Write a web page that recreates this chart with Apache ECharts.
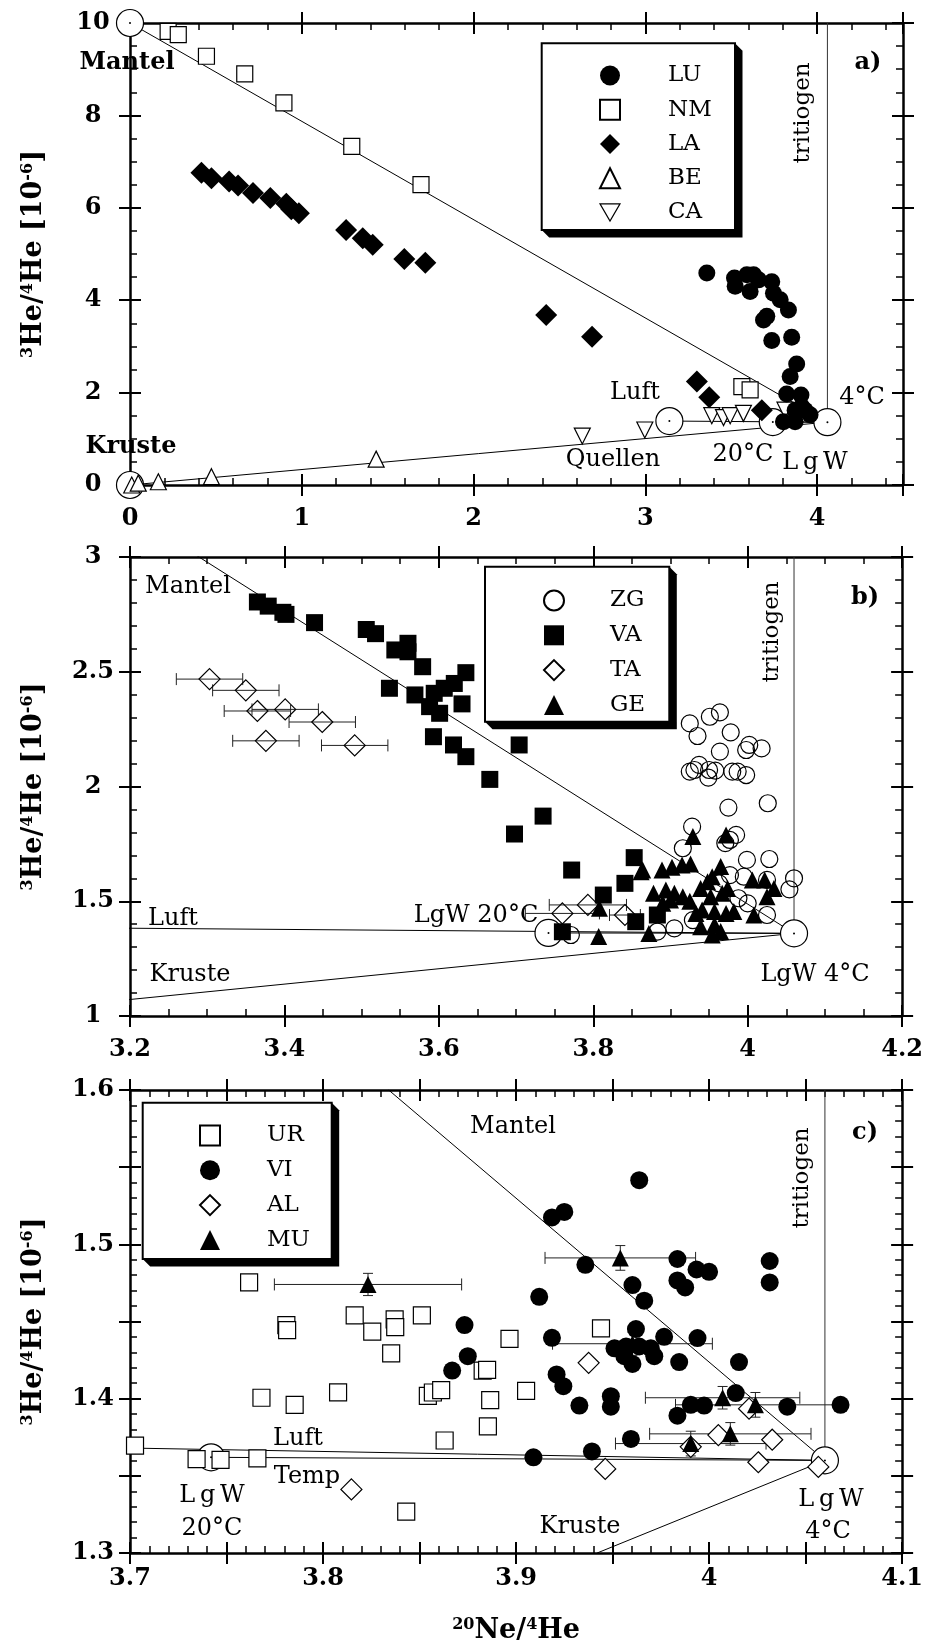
<!DOCTYPE html>
<html>
<head>
<meta charset="utf-8">
<script src="https://cdn.jsdelivr.net/npm/echarts@6/dist/echarts.min.js"></script>
<style>
  html, body { margin: 0; padding: 0; background: #fff; }
  #chart { width: 926px; height: 1648px; }
</style>
</head>
<body>
<div id="chart"></div>
<script>
// ==================== DATA ====================
// end members [Ne/He, 3He/4He]
const endMantel = [0, 10];
const endKruste = [0, 0];
const endLuft = [3.14, 1.384];
const endLgW20 = [3.742, 1.362];
const endLgW4 = [4.06, 1.36];
// where the panel c mixing lines hit the frame
const mantelEdgeC = [3.834, 1.6];
const krusteEdgeC = [3.942, 1.3];
const luftEdgeC = [3.7, 1.368];

// panel a
const LU = [[3.358,4.59],[3.519,4.48],[3.523,4.30],[3.591,4.55],[3.630,4.55],[3.659,4.44],[3.610,4.19],[3.736,4.40],[3.746,4.15],[3.785,4.01],[3.833,3.79],[3.707,3.65],[3.688,3.57],[3.736,3.13],[3.852,3.20],[3.881,2.62],[3.843,2.35],[3.823,1.97],[3.906,1.95],[3.930,1.62],[3.959,1.52],[3.872,1.62],[3.804,1.37],[3.872,1.37],[3.910,1.70]];
const NM = [[0.222,9.82],[0.281,9.75],[0.445,9.28],[0.668,8.90],[0.896,8.27],[1.291,7.33],[1.694,6.50],[3.562,2.13],[3.610,2.06]];
const LA = [[0.416,6.76],[0.474,6.64],[0.577,6.57],[0.629,6.48],[0.716,6.32],[0.817,6.21],[0.910,6.09],[0.939,5.97],[0.983,5.88],[1.258,5.52],[1.355,5.34],[1.413,5.20],[1.597,4.89],[1.719,4.81],[2.423,3.68],[2.690,3.21],[3.300,2.24],[3.372,1.90],[3.678,1.62]];
const BE = [[0.010,0.00],[0.048,0.04],[0.165,0.07],[0.474,0.18],[1.433,0.56]];
const CA = [[2.633,1.06],[2.997,1.19],[3.387,1.50],[3.455,1.46],[3.494,1.50],[3.571,1.55],[3.813,1.62]];

// panel b
const ZG = [[3.925,2.275],[3.935,2.220],[3.951,2.304],[3.964,2.323],[3.978,2.236],[3.964,2.152],[4.002,2.181],[3.998,2.159],[4.018,2.166],[3.925,2.065],[3.937,2.094],[3.931,2.072],[3.949,2.039],[3.950,2.072],[3.958,2.069],[3.980,2.065],[3.987,2.065],[3.998,2.050],[4.026,1.927],[3.975,1.908],[3.928,1.825],[3.916,1.731],[3.971,1.753],[3.985,1.789],[3.977,1.767],[3.999,1.680],[4.028,1.684],[3.977,1.614],[3.995,1.607],[4.025,1.593],[4.060,1.600],[4.054,1.552],[3.988,1.513],[4.000,1.491],[4.025,1.440],[3.905,1.382],[3.883,1.368],[3.929,1.418],[3.963,1.578],[3.771,1.353]];
const VA = [[3.365,2.804],[3.379,2.786],[3.398,2.759],[3.402,2.750],[3.439,2.714],[3.506,2.684],[3.518,2.666],[3.543,2.595],[3.560,2.624],[3.560,2.587],[3.579,2.522],[3.536,2.428],[3.569,2.399],[3.594,2.406],[3.588,2.348],[3.601,2.319],[3.607,2.428],[3.620,2.449],[3.635,2.496],[3.630,2.360],[3.593,2.217],[3.619,2.181],[3.635,2.130],[3.704,2.181],[3.666,2.031],[3.735,1.871],[3.698,1.793],[3.772,1.636],[3.853,1.690],[3.841,1.578],[3.813,1.527],[3.855,1.411],[3.760,1.367],[3.883,1.440]];
// [x, y, xerr]
const TA = [[3.303,2.468,0.043],[3.350,2.419,0.043],[3.365,2.329,0.043],[3.401,2.336,0.043],[3.449,2.281,0.043],[3.376,2.199,0.043],[3.491,2.179,0.043],[3.760,1.447,0.048],[3.793,1.484,0.050],[3.841,1.440,0.020]];
const GE = [[3.929,1.782],[3.972,1.789],[3.889,1.636],[3.902,1.648],[3.915,1.658],[3.926,1.662],[3.965,1.651],[3.864,1.636],[3.878,1.535],[3.894,1.549],[3.905,1.535],[3.916,1.520],[3.890,1.491],[3.939,1.556],[3.948,1.585],[3.954,1.607],[3.952,1.520],[3.967,1.535],[3.974,1.556],[3.941,1.462],[3.957,1.455],[3.972,1.447],[3.982,1.455],[3.933,1.447],[3.939,1.389],[3.957,1.397],[3.965,1.368],[3.954,1.353],[4.006,1.593],[4.022,1.593],[4.034,1.556],[4.025,1.520],[4.008,1.440],[3.872,1.360],[3.808,1.469],[3.807,1.346],[3.862,1.629],[3.900,1.505],[3.925,1.500]];

// panel c
const UR = [[3.7026,1.3696],[3.7345,1.3608],[3.7469,1.3603],[3.7660,1.3613],[3.7617,1.4754],[3.7810,1.4477],[3.7814,1.4444],[3.7681,1.4006],[3.7853,1.3960],[3.8164,1.4540],[3.8255,1.4434],[3.8371,1.4514],[3.8374,1.4464],[3.8353,1.4293],[3.8512,1.4540],[3.8078,1.4041],[3.8543,1.4018],[3.8569,1.4040],[3.8612,1.4055],[3.8630,1.3729],[3.8431,1.3268],[3.8966,1.4388],[3.9440,1.4455],[3.8827,1.4182],[3.8850,1.4187],[3.8866,1.3991],[3.9052,1.4050],[3.8854,1.3820]];
const VI = [[3.8733,1.4477],[3.8750,1.4275],[3.8669,1.4182],[3.9638,1.5416],[3.9186,1.5174],[3.9250,1.5210],[3.9359,1.4867],[3.9836,1.4905],[3.9935,1.4837],[4.0000,1.4822],[3.9836,1.4766],[3.9876,1.4721],[3.9603,1.4736],[3.9664,1.4635],[4.0314,1.4892],[4.0314,1.4753],[3.9120,1.4660],[3.9186,1.4394],[3.9621,1.4451],[3.9767,1.4401],[3.9940,1.4393],[3.9510,1.4326],[3.9570,1.4338],[3.9638,1.4338],[3.9698,1.4326],[3.9561,1.4275],[3.9603,1.4225],[3.9716,1.4275],[3.9845,1.4237],[3.9210,1.4157],[3.9245,1.4081],[3.9328,1.3955],[3.9491,1.4016],[3.9491,1.3948],[4.0155,1.4237],[4.0138,1.4036],[3.9905,1.3960],[3.9974,1.3955],[3.9836,1.3890],[4.0405,1.3948],[4.0681,1.3960],[3.9595,1.3739],[3.9393,1.3658],[3.9090,1.3620]];
const AL = [[3.8147,1.3412],[3.9376,1.4232],[3.9462,1.3545],[4.0207,1.3935],[4.0048,1.3764],[3.9905,1.3688],[4.0327,1.3734],[4.0255,1.3588],[4.0566,1.3558]];
// [x, y, xerr, yerr]
const MU = [[3.8233,1.4740,0.0485,0.0072],[3.9540,1.4912,0.039,0.008],[4.0070,1.4006,0.040,0.0073],[4.0240,1.3960,0.0414,0.008],[4.0110,1.3772,0.0418,0.0073],[3.9905,1.3709,0.039,0.008],[3.9603,1.4356,0.0414,0.0075]];

// ==================== CHART ====================
const FONT = '"DejaVu Serif", "Liberation Serif", serif';
const chart = echarts.init(document.getElementById('chart'));

const fmtInt = v => Math.abs(v - Math.round(v)) < 1e-6 ? String(Math.round(v)) : '';
const fmtDec = v => String(Math.round(v * 10) / 10);
const fmtTenth = v => Math.abs(v * 10 - Math.round(v * 10)) < 1e-6 ? String(Math.round(v * 10) / 10) : '';

const tickFont = { fontFamily: FONT, fontSize: 24, fontWeight: 'bold', color: '#000' };
const titleStyle = {
  fontFamily: FONT, fontSize: 27, fontWeight: 'bold', color: '#000',
  rich: { s: { fontFamily: FONT, fontSize: 16, fontWeight: 'bold', color: '#000', padding: [0, 0, 12, 0] } }
};

function axesPair(dim, g, min, max, major, minor, fmt, extra, labelMargin) {
  const pos = dim === 'x' ? ['bottom', 'top'] : ['left', 'right'];
  const base = { gridIndex: g, type: 'value', min, max, splitLine: { show: false } };
  const line = { show: true, onZero: false, lineStyle: { color: '#000', width: 2.5 } };
  const noLine = { show: false, onZero: false };
  const minorTick = { show: true, inside: true, length: 7, lineStyle: { color: '#000', width: 1.5 } };
  const majorTick = { show: true, inside: false, length: 22, lineStyle: { color: '#000', width: 2 } };
  const lab = dim === 'x'
    ? { show: true, margin: labelMargin || 33, formatter: fmt, ...tickFont }
    : { show: true, margin: 48, align: 'center', formatter: fmt, ...tickFont };
  return [
    Object.assign({ ...base, position: pos[0], interval: minor, axisLine: line, axisTick: minorTick, axisLabel: { show: false } }, extra || {}),
    { ...base, position: pos[0], offset: -11, interval: major, axisLine: noLine, axisTick: majorTick, axisLabel: lab },
    { ...base, position: pos[1], interval: minor, axisLine: line, axisTick: minorTick, axisLabel: { show: false } },
    { ...base, position: pos[1], offset: -11, interval: major, axisLine: noLine, axisTick: majorTick, axisLabel: { show: false } }
  ];
}

const yName = { name: '{s|3}He/{s|4}He [10{s|-6}]', nameLocation: 'middle', nameRotate: 90, nameGap: 82, nameTextStyle: titleStyle };

const xAxis = [
  ...axesPair('x', 0, 0, 4.5, 1, 0.2, fmtInt),
  ...axesPair('x', 1, 3.2, 4.2, 0.2, 0.05, fmtDec),
  ...axesPair('x', 2, 3.7, 4.1, 0.05, 0.01, fmtTenth,
    { name: '{s|20}Ne/{s|4}He', nameLocation: 'middle', nameGap: 64, nameTextStyle: titleStyle }, 25)
];
const yAxis = [
  ...axesPair('y', 0, 0, 10, 2, 0.5, fmtInt, yName),
  ...axesPair('y', 1, 1, 3, 0.5, 0.1, fmtDec, yName),
  ...axesPair('y', 2, 1.3, 1.6, 0.05, 0.01, fmtTenth, yName)
];

const grid = [
  { left: 130, width: 773, top: 23, height: 462 },
  { left: 130, width: 773, top: 557, height: 459 },
  { left: 130, width: 773, top: 1090, height: 463 }
];

function mixLine(g, pts, color) {
  return { type: 'line', data: pts, xAxisIndex: 4 * g, yAxisIndex: 4 * g, symbol: 'none', silent: true,
    lineStyle: { color: color || '#000', width: 1 }, z: 1 };
}
function ends(g, pts) {
  return [
    { type: 'scatter', data: pts, xAxisIndex: 4 * g, yAxisIndex: 4 * g, symbol: 'circle', symbolSize: 27, clip: false, silent: true,
      itemStyle: { color: '#fff', borderColor: '#000', borderWidth: 1.2, opacity: 1 } },
    { type: 'scatter', data: pts, xAxisIndex: 4 * g, yAxisIndex: 4 * g, symbol: 'circle', symbolSize: 2, clip: false, silent: true,
      itemStyle: { color: '#000', opacity: 1 } }
  ];
}
function pts(name, data, g, symbol, size, fill, rot) {
  const open = fill !== '#000';
  return { type: 'scatter', name, data, xAxisIndex: 4 * g, yAxisIndex: 4 * g, symbol, symbolSize: size, symbolRotate: rot || 0,
    itemStyle: { color: fill, borderColor: '#000', borderWidth: open ? 1.2 : 0, opacity: 1 } };
}
function errBars(data, g, cap) {
  return { type: 'custom', data, xAxisIndex: 4 * g, yAxisIndex: 4 * g, silent: true,
    renderItem: (params, api) => {
      const x = api.value(0), y = api.value(1), ex = api.value(2) || 0, ey = api.value(3) || 0;
      const st = { stroke: '#222', lineWidth: 1 };
      const kids = [];
      const ln = (x1, y1, x2, y2) => kids.push({ type: 'line', shape: { x1, y1, x2, y2 }, style: st });
      if (ex > 0) {
        const a = api.coord([x - ex, y]), b = api.coord([x + ex, y]);
        ln(a[0], a[1], b[0], b[1]); ln(a[0], a[1] - 6, a[0], a[1] + 6); ln(b[0], b[1] - 6, b[0], b[1] + 6);
      }
      if (ey > 0) {
        const t = api.coord([x, y + ey]), b = api.coord([x, y - ey]);
        ln(t[0], t[1], b[0], b[1]); ln(t[0] - cap, t[1], t[0] + cap, t[1]); ln(b[0] - cap, b[1], b[0] + cap, b[1]);
      }
      return { type: 'group', children: kids };
    } };
}

const series = [
  // panel a
  mixLine(0, [endMantel, endLgW4]), mixLine(0, [endKruste, endLgW4]), mixLine(0, [endLuft, endLgW4]),
  mixLine(0, [endLgW20, endLgW4]), mixLine(0, [endLgW4, [endLgW4[0], 10]], '#333'),
  ...ends(0, [endMantel, endKruste, endLuft, endLgW20, endLgW4]),
  pts('BE', BE, 0, 'triangle', 16, '#fff'),
  pts('CA', CA, 0, 'triangle', 16, '#fff', 180),
  pts('NM', NM, 0, 'rect', 16, '#fff'),
  pts('LA', LA, 0, 'diamond', 22, '#000'),
  pts('LU', LU, 0, 'circle', 17, '#000'),
  // panel b
  mixLine(1, [endMantel, endLgW4]), mixLine(1, [endKruste, endLgW4]), mixLine(1, [endLuft, endLgW4]),
  mixLine(1, [endLgW20, endLgW4]), mixLine(1, [endLgW4, [endLgW4[0], 3]], '#333'),
  ...ends(1, [endLgW20, endLgW4]),
  errBars(TA, 1, 5),
  pts('TA', TA, 1, 'diamond', 21, 'rgba(255,255,255,0)'),
  pts('VA', VA, 1, 'rect', 17, '#000'),
  pts('ZG', ZG, 1, 'circle', 17, 'rgba(255,255,255,0)'),
  pts('GE', GE, 1, 'triangle', 17, '#000'),
  // panel c
  mixLine(2, [mantelEdgeC, endLgW4]), mixLine(2, [krusteEdgeC, endLgW4]), mixLine(2, [luftEdgeC, endLgW4]),
  mixLine(2, [endLgW20, endLgW4]), mixLine(2, [endLgW4, [endLgW4[0], 1.6]], '#333'),
  ...ends(2, [endLgW20, endLgW4]),
  pts('UR', UR, 2, 'rect', 17, '#fff'),
  pts('AL', AL, 2, 'diamond', 21, '#fff'),
  errBars(MU, 2, 5),
  pts('MU', MU, 2, 'triangle', 17, '#000'),
  pts('VI', VI, 2, 'circle', 18, '#000')
];

function legendAt(names, left, top, gap, textPad) {
  return { data: names, left, top, orient: 'vertical', itemWidth: 20, itemHeight: 20, itemGap: gap, padding: 0,
    selectedMode: false, textStyle: { fontFamily: FONT, fontSize: 23, color: '#000', lineHeight: 20, padding: [0, 0, 0, textPad] } };
}
const downTri = { name: 'CA', icon: 'path://M0,0L20,0L10,17.3Z',
  itemStyle: { color: '#fff', borderColor: '#000', borderWidth: 1.2 } };
const legend = [
  legendAt(['LU', 'NM', 'LA', 'BE', downTri], 599, 64, 11.25, 43),
  legendAt(['ZG', 'VA', 'TA', 'GE'], 543, 589, 11.8, 41),
  legendAt(['UR', 'VI', 'AL', 'MU'], 199, 1124, 11.8, 42)
];

function legendBox(x, y, w, h) {
  const s = 7.5;
  return [
    { type: 'polygon', z: 3, shape: { points: [[x + w, y], [x + w + s, y + s], [x + w + s, y + h + s], [x + s, y + h + s], [x, y + h], [x, y]] },
      style: { fill: '#000' } },
    { type: 'rect', z: 3, shape: { x, y, width: w, height: h }, style: { fill: '#fff', stroke: '#000', lineWidth: 2 } }
  ];
}
function label(text, x, y, opts) {
  opts = opts || {};
  return { type: 'text', z: 6, x, y, rotation: opts.rot || 0,
    style: { text, x: 0, y: 0, align: 'center', verticalAlign: 'middle', fill: '#000',
      font: (opts.bold ? 'bold ' : '') + (opts.size || 24) + 'px ' + FONT } };
}
const LGW = 'L\u2009g\u2009W';
const graphic = [
  ...legendBox(541.7, 43.3, 193.3, 186.7),
  ...legendBox(485, 566.8, 184.3, 155),
  ...legendBox(142.7, 1102.8, 189, 156.3),
  // panel a
  label('Mantel', 127, 63, { bold: true }), label('Kruste', 131, 447, { bold: true }),
  label('Luft', 635, 393), label('Quellen', 613, 460), label('20°C', 743, 455),
  label(LGW, 815, 463), label('4°C', 862, 398),
  label('tritiogen', 803, 113, { rot: Math.PI / 2, size: 23 }), label('a)', 868, 63, { bold: true }),
  // panel b
  label('Mantel', 188, 587), label('Luft', 173, 919), label('Kruste', 190, 975),
  label('LgW 20°C', 476, 916), label('LgW 4°C', 815, 975),
  label('tritiogen', 772, 632, { rot: Math.PI / 2, size: 23 }), label('b)', 865, 598, { bold: true }),
  // panel c
  label('Mantel', 513, 1127), label('Luft', 298, 1439), label('Temp', 307, 1477),
  label(LGW, 212, 1496), label('20°C', 212, 1529), label('Kruste', 580, 1527),
  label(LGW, 831, 1500), label('4°C', 828, 1532),
  label('tritiogen', 802, 1178, { rot: Math.PI / 2, size: 23 }), label('c)', 865, 1133, { bold: true })
];

chart.setOption({
  backgroundColor: '#fff',
  animation: false,
  grid, xAxis, yAxis, legend, series, graphic
});
</script>
</body>
</html>
